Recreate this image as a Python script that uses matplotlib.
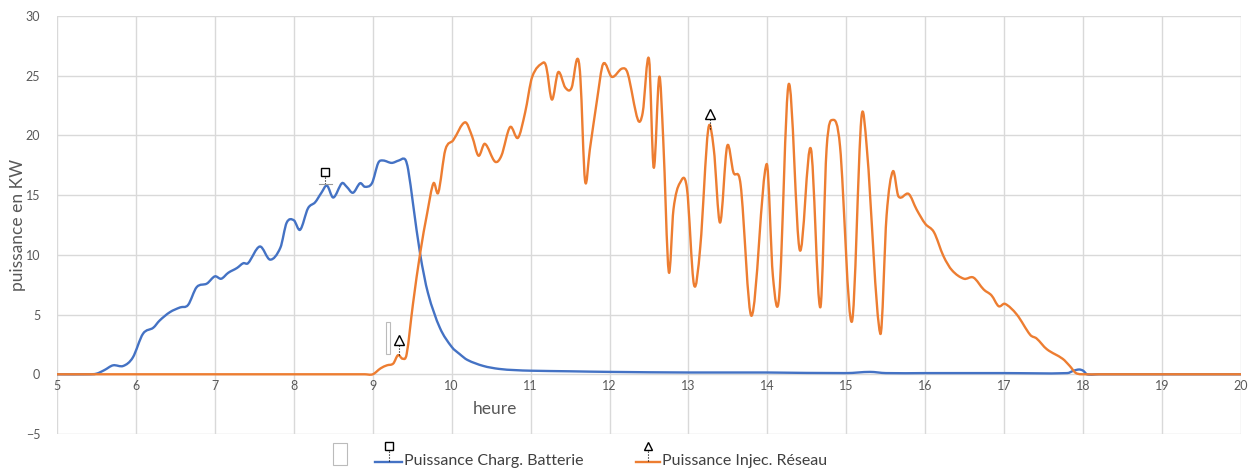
import matplotlib
matplotlib.use('Agg')
import matplotlib.pyplot as plt
from matplotlib.lines import Line2D
from matplotlib.patches import Rectangle, PathPatch
from matplotlib.path import Path

plt.rcParams['font.family'] = ['Lato', 'DejaVu Sans']

# -------------------------------------------------------------------
# Data
# -------------------------------------------------------------------
heures_ticks = list(range(5, 21))
y_ticks = [-5, 0, 5, 10, 15, 20, 25, 30]

batterie_h = [5.0, 5.4, 5.5, 5.6, 5.71, 5.84, 5.96, 6.09, 6.22, 6.3, 6.43, 6.56, 6.66, 6.77, 6.9,
              7.0, 7.08, 7.17, 7.28, 7.36, 7.42, 7.57, 7.7, 7.83, 7.91, 8.0, 8.08, 8.18,
              8.27, 8.35, 8.42, 8.5, 8.61, 8.67, 8.75, 8.84, 8.9, 8.99, 9.07, 9.13, 9.24,
              9.33, 9.41, 9.45, 9.51, 9.6, 9.7, 9.85, 10.0, 10.1, 10.2, 10.4, 10.6, 10.8,
              11.0, 11.5, 12.0, 13.0, 14.0, 15.0, 15.3, 15.5, 16.0, 17.0, 17.8, 17.88,
              17.95, 18.0, 18.05, 18.2, 20.0]
batterie_kw = [0, 0, 0.05, 0.35, 0.75, 0.7, 1.4, 3.4, 3.9, 4.5, 5.2, 5.6, 5.8, 7.3, 7.6,
               8.2, 8.0, 8.5, 8.9, 9.3, 9.3, 10.7, 9.6, 10.6, 12.7, 12.9, 12.1, 13.9,
               14.4, 15.2, 15.8, 14.8, 16.0, 15.7, 15.2, 16.0, 15.7, 16.0, 17.7, 17.9, 17.7,
               17.9, 18.0, 17.1, 14.3, 10.1, 6.8, 3.9, 2.3, 1.7, 1.2, 0.7, 0.45, 0.35,
               0.3, 0.25, 0.2, 0.15, 0.15, 0.1, 0.2, 0.1, 0.1, 0.1, 0.1, 0.3,
               0.4, 0.3, 0.0, 0.0, 0.0]

reseau_h = [5.0, 8.9, 9.0, 9.1, 9.18, 9.26, 9.32, 9.38, 9.43, 9.51, 9.6, 9.69, 9.77, 9.83, 9.92,
            10.02, 10.17, 10.26, 10.34, 10.42, 10.55, 10.63, 10.74, 10.84, 10.93, 11.02,
            11.16, 11.2, 11.27, 11.35, 11.44, 11.52, 11.59, 11.63, 11.69, 11.75, 11.84,
            11.92, 12.03, 12.16, 12.23, 12.36, 12.42, 12.5, 12.56, 12.63, 12.68, 12.75,
            12.81, 12.89, 12.98, 13.07, 13.15, 13.25, 13.32, 13.4, 13.49, 13.57, 13.66,
            13.8, 13.99, 14.07, 14.15, 14.27, 14.41, 14.55, 14.67, 14.75, 14.83, 14.92,
            15.07, 15.19, 15.26, 15.43, 15.51, 15.59, 15.66, 15.79, 15.89, 16.0, 16.11,
            16.23, 16.34, 16.49, 16.61, 16.74, 16.84, 16.93, 17.01, 17.16, 17.33, 17.41,
            17.54, 17.74, 17.83, 17.91, 18.03, 18.2, 20.0]
reseau_kw = [0, 0, 0, 0.5, 0.75, 0.9, 1.6, 1.3, 1.7, 5.9, 10.1, 13.5, 16.0, 15.2, 18.8,
             19.6, 21.1, 19.9, 18.3, 19.3, 17.8, 18.3, 20.7, 19.8, 21.9, 24.9,
             26.1, 25.7, 23.0, 25.3, 24.0, 24.0, 26.4, 24.9, 16.2, 18.8, 22.9,
             26.0, 24.9, 25.6, 25.2, 21.3, 21.9, 26.4, 17.3, 24.9, 19.7, 8.6,
             13.8, 16.0, 15.6, 7.5, 10.7, 20.5, 18.9, 12.7, 19.1, 16.9, 15.9,
             4.9, 17.6, 8.2, 6.6, 24.3, 10.4, 18.9, 5.6, 18.9, 21.3, 19.1,
             4.4, 21.4, 18.9, 3.4, 13.3, 17.0, 14.9, 15.1, 13.8, 12.6, 11.9,
             9.9, 8.7, 8.0, 8.1, 7.1, 6.6, 5.7, 5.9, 5.0, 3.3, 3.0,
             2.1, 1.3, 0.7, 0.1, 0.0, 0.0, 0.0]

# marqueurs isoles (Excel)
marq_carre = (8.4, 16.9, 15.9)
marq_tri = [(9.33, 2.9, 1.6), (13.27, 21.8, 20.5)]


# -------------------------------------------------------------------
# Tools : courbe lissee facon Excel (Bezier passant par les points)
# -------------------------------------------------------------------
def courbe_lisse(xs, ys):
	n = len(xs)
	pente = []
	for i in range(n):
		a = max(i - 1, 0); b = min(i + 1, n - 1)
		pente.append((ys[b] - ys[a]) / (xs[b] - xs[a]))
	verts = [(xs[0], ys[0])]; codes = [Path.MOVETO]
	for i in range(n - 1):
		h = xs[i + 1] - xs[i]
		verts += [(xs[i] + h / 3, ys[i] + pente[i] * h / 3),
				  (xs[i + 1] - h / 3, ys[i + 1] - pente[i + 1] * h / 3),
				  (xs[i + 1], ys[i + 1])]
		codes += [Path.CURVE4] * 3
	return Path(verts, codes)


# -------------------------------------------------------------------
# Figure
# -------------------------------------------------------------------
W, H = 1258, 476
fig = plt.figure(figsize=(W / 100, H / 100), dpi=100)
ax = fig.add_axes([57 / W, 1 - 434 / H, (1241 - 57) / W, (434 - 16) / H])

bleu = '#4472C4'
orange = '#ED7D31'
gris = '#595959'

ax.add_patch(PathPatch(courbe_lisse(batterie_h, batterie_kw), fill=False, ec=bleu, lw=1.7,
					   joinstyle='round', capstyle='round', zorder=3))
ax.add_patch(PathPatch(courbe_lisse(reseau_h, reseau_kw), fill=False, ec=orange, lw=1.7,
					   joinstyle='round', capstyle='round', zorder=4))

# marqueurs
x, y, yc = marq_carre
ax.plot([x, x], [yc, y], color='k', lw=0.8, ls=':', zorder=5)
ax.plot([x - 0.08, x + 0.08], [yc, yc], color='#999999', lw=0.8, zorder=5)
ax.plot(x, y, 's', mfc='white', mec='k', ms=5.5, mew=1, zorder=6)
for x, y, yc in marq_tri:
	ax.plot([x, x], [yc, y], color='k', lw=0.8, ls=':', zorder=5)
	ax.plot(x, y, '^', mfc='white', mec='k', ms=6.5, mew=1, zorder=6)
ax.add_patch(Rectangle((9.17, 1.7), 0.05, 2.7, fill=False, ec='#BBBBBB', lw=0.8, zorder=5))

ax.set_xlim(5, 20)
ax.set_ylim(-5, 30)
ax.set_xticks(heures_ticks)
ax.set_yticks(y_ticks)
ax.grid(True, color='#D9D9D9', lw=1)
ax.set_axisbelow(True)
for s in ax.spines.values():
	s.set_visible(False)
ax.spines['bottom'].set_position(('data', 0))
ax.tick_params(length=0, labelcolor=gris, labelsize=9)
ax.tick_params(axis='x', pad=4)
ax.tick_params(axis='y', pad=12)

ax.set_ylabel('puissance en KW', color=gris, fontsize=12.5)
ax.yaxis.set_label_coords(-0.026, 0.5)
ax.text(10.55, -2.9, 'heure', color=gris, fontsize=12.5, ha='center', va='center')


# legende
def px(xp, yp):
	return xp / W, 1 - yp / H

fig.add_artist(Rectangle(px(333, 465), 14 / W, 22 / H, fill=False, ec='#BBBBBB', lw=0.8,
						 transform=fig.transFigure))
legende = [(375, 402, bleu, 's', 'Puissance Charg. Batterie'),
		   (636, 660, orange, '^', 'Puissance Injec. Réseau')]
for x0, x1, c, m, txt in legende:
	xm = (x0 + x1) / 2
	fig.add_artist(Line2D([px(x0, 0)[0], px(x1, 0)[0]], [px(0, 462)[1]] * 2, color=c, lw=1.7,
						  transform=fig.transFigure))
	fig.add_artist(Line2D([px(xm, 0)[0]] * 2, [px(0, 461)[1], px(0, 450)[1]], color='k', lw=0.8,
						  ls=':', transform=fig.transFigure))
	fig.add_artist(Line2D([px(xm, 0)[0]], [px(0, 446)[1]], marker=m, mfc='white', mec='k',
						  ms=6 if m == '^' else 5.5, mew=1, transform=fig.transFigure))
	fig.text(px(x1 + 2, 0)[0], px(0, 461)[1], txt, color='#404040', fontsize=11.5,
			 ha='left', va='center')

plt.savefig('out.png', dpi=100)
